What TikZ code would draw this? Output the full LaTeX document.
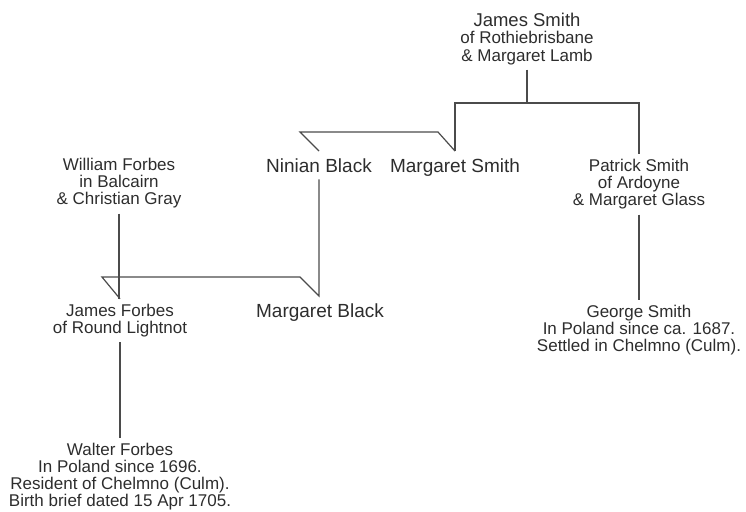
\documentclass[tikz,border=0pt]{standalone}
\usepackage{fontspec}
\setmainfont{Liberation Sans}
\usepackage{tikz}

\definecolor{inkgray}{RGB}{45,45,45}
\definecolor{linegray}{RGB}{75,75,75}

\begin{document}
\begin{tikzpicture}[x=1pt,y=-1pt,
  person/.style={anchor=north, align=center, inner xsep=0pt, inner ysep=5pt,
    text=inkgray, font=\fontsize{17}{17.3}\selectfont},
  spouse/.style={anchor=base, inner xsep=0pt, inner ysep=7pt,
    text=inkgray, font=\fontsize{19}{22}\selectfont},
  link/.style={draw=linegray, line width=1.2pt}]
			\useasboundingbox (0,0) rectangle (746,511);
			\node[person] (jsmith) at (527,7.8) {{\fontsize{18.5}{19}\selectfont James Smith}\\of Rothiebrisbane\\\& Margaret Lamb};
			\node[spouse] (ninian) at (319,172) {Ninian Black};
			\node[spouse] (msmith) at (455,172) {Margaret Smith};
			\node[person] (wforbes) at (119,152.8) {William Forbes\\in Balcairn\\\& Christian Gray};
			\node[person] (psmith) at (639,153.8) {Patrick Smith\\of Ardoyne\\\& Margaret Glass};
			\node[person] (jforbes) at (120,298.8) {James Forbes\\of Round Lightnot};
			\node[spouse] (mblack) at (320,317) {Margaret Black};
			\node[person] (gsmith) at (639,299.8) {George Smith\\In Poland since ca. 1687.\\Settled in Chelmno (Culm).};
			\node[person, font=\fontsize{17}{16.9}\selectfont] (walter) at (120,438.3) {Walter Forbes\\In Poland since 1696.\\Resident of Chelmno (Culm).\\Birth brief dated 15 Apr 1705.};
			\coordinate (kids) at (527,103);
			\draw[link] (jsmith.south) -- (kids);
			\draw[link] (msmith.north) -- (msmith.north |- kids) -| (psmith.north);
			\draw[link] (ninian.north) -- ++(-19,-19) -- ++(138,0) -- (msmith.north);
			\draw[link] (ninian.south) -- (ninian.south |- mblack.north) -- ++(-19,-19) -- ++(-198,0) -- (jforbes.north);
			\draw[link] (wforbes.south) -- (wforbes.south |- jforbes.north);
			\draw[link] (psmith.south) -- (gsmith.north);
			\draw[link] (jforbes.south) -- (walter.north);
		\end{tikzpicture}
\end{document}
